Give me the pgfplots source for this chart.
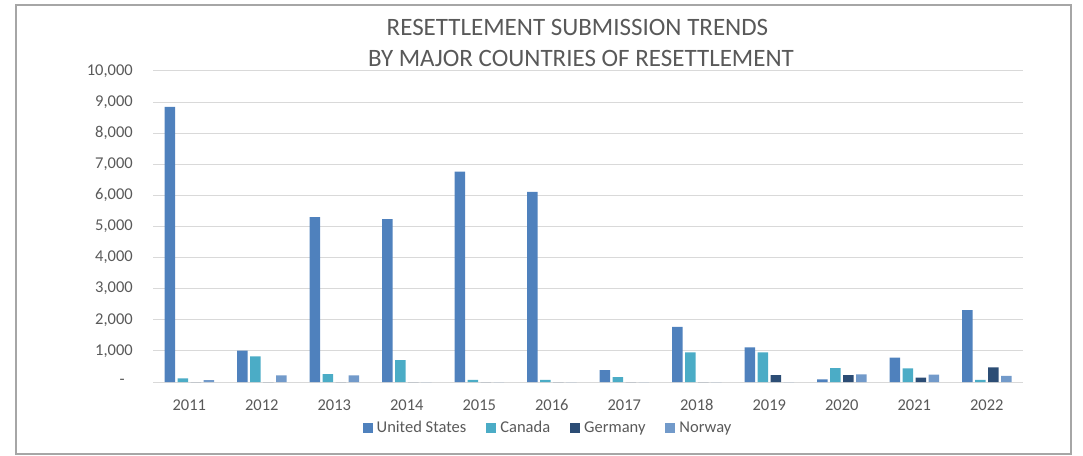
\documentclass[border=0pt]{standalone}
\usepackage{pgfplots}
\pgfplotsset{compat=1.18}
\usepackage{fontspec}
\setmainfont{Carlito}
\definecolor{cUS}{HTML}{4F81BD}
\definecolor{cCA}{HTML}{4BACC6}
\definecolor{cDE}{HTML}{2C4D75}
\definecolor{cNO}{HTML}{729ACA}
\definecolor{txt}{HTML}{595959}
\definecolor{grid}{HTML}{D9D9D9}
\definecolor{frame}{HTML}{A6A6A6}
\pgfplotsset{sqlegend/.style={legend image code/.code={\fill[##1,draw=none] (0pt,-5pt) rectangle (10pt,5pt);}}}
\begin{document}
\begin{tikzpicture}[x=1pt,y=1pt]
\begin{axis}[
  at={(153pt,73pt)}, anchor=south west,
  width=870pt, height=311pt, scale only axis,
  ybar=2.5pt, bar width=10.5pt,
  xmin=-0.5, xmax=11.5, ymin=0, ymax=10000,
  xtick={0,...,11},
  xticklabels={2011,2012,2013,2014,2015,2016,2017,2018,2019,2020,2021,2022},
  ytick={0,1000,...,10000},
  scaled y ticks=false,
  yticklabels={{-\hspace*{8pt}},{1,000},{2,000},{3,000},{4,000},{5,000},{6,000},{7,000},{8,000},{9,000},{10,000}},
  major tick length=0pt,
  axis line style={draw=none},
  ymajorgrids, major grid style={draw=grid, line width=1pt},
  tick label style={font=\fontsize{16.5}{19}\selectfont, text=txt},
  yticklabel style={anchor=east, inner sep=0pt, xshift=-20pt},
  xticklabel style={anchor=base, inner sep=0pt, yshift=-28pt},
  legend columns=4,
  legend style={at={(0.4529,-0.1479)}, anchor=center, draw=none, fill=none,
    inner sep=0pt, font=\fontsize{16.5}{19}\selectfont, text=txt,
    nodes={inner sep=0pt},
    /tikz/every odd column/.append style={column sep=4pt},
    /tikz/every even column/.append style={column sep=20pt}},
  legend cell align=left,
  clip=false,
]
\addplot[fill=cUS, draw=none, sqlegend]
  coordinates {(0,8850) (1,1010) (2,5305) (3,5240) (4,6765) (5,6110) (6,385) (7,1770) (8,1115) (9,85) (10,780) (11,2315)};
\addplot[fill=cCA, draw=none, sqlegend]
  coordinates {(0,120) (1,825) (2,255) (3,705) (4,65) (5,65) (6,160) (7,955) (8,955) (9,450) (10,440) (11,65)};
\addplot[fill=cDE, draw=none, sqlegend]
  coordinates {(0,0) (1,0) (2,0) (3,0) (4,0) (5,0) (6,0) (7,0) (8,225) (9,225) (10,140) (11,470)};
\addplot[fill=cNO, draw=none, sqlegend]
  coordinates {(0,60) (1,215) (2,215) (3,0) (4,0) (5,0) (6,0) (7,0) (8,0) (9,245) (10,235) (11,195)};
\legend{United States,Canada,Germany,Norway}
\end{axis}
\node[anchor=base, inner sep=0pt, text=txt, font=\fontsize{25}{30}\selectfont] at (577.5pt,419pt) {RESETTLEMENT SUBMISSION TRENDS};
\node[anchor=base, inner sep=0pt, text=txt, font=\fontsize{25}{30}\selectfont] at (581pt,388.3pt) {BY MAJOR COUNTRIES OF RESETTLEMENT};
\draw[frame, line width=1.5pt] (16pt,1pt) rectangle (1071pt,450pt);
\pgfresetboundingbox
\useasboundingbox (0pt,0pt) rectangle (1083pt,455pt);
\end{tikzpicture}
\end{document}
